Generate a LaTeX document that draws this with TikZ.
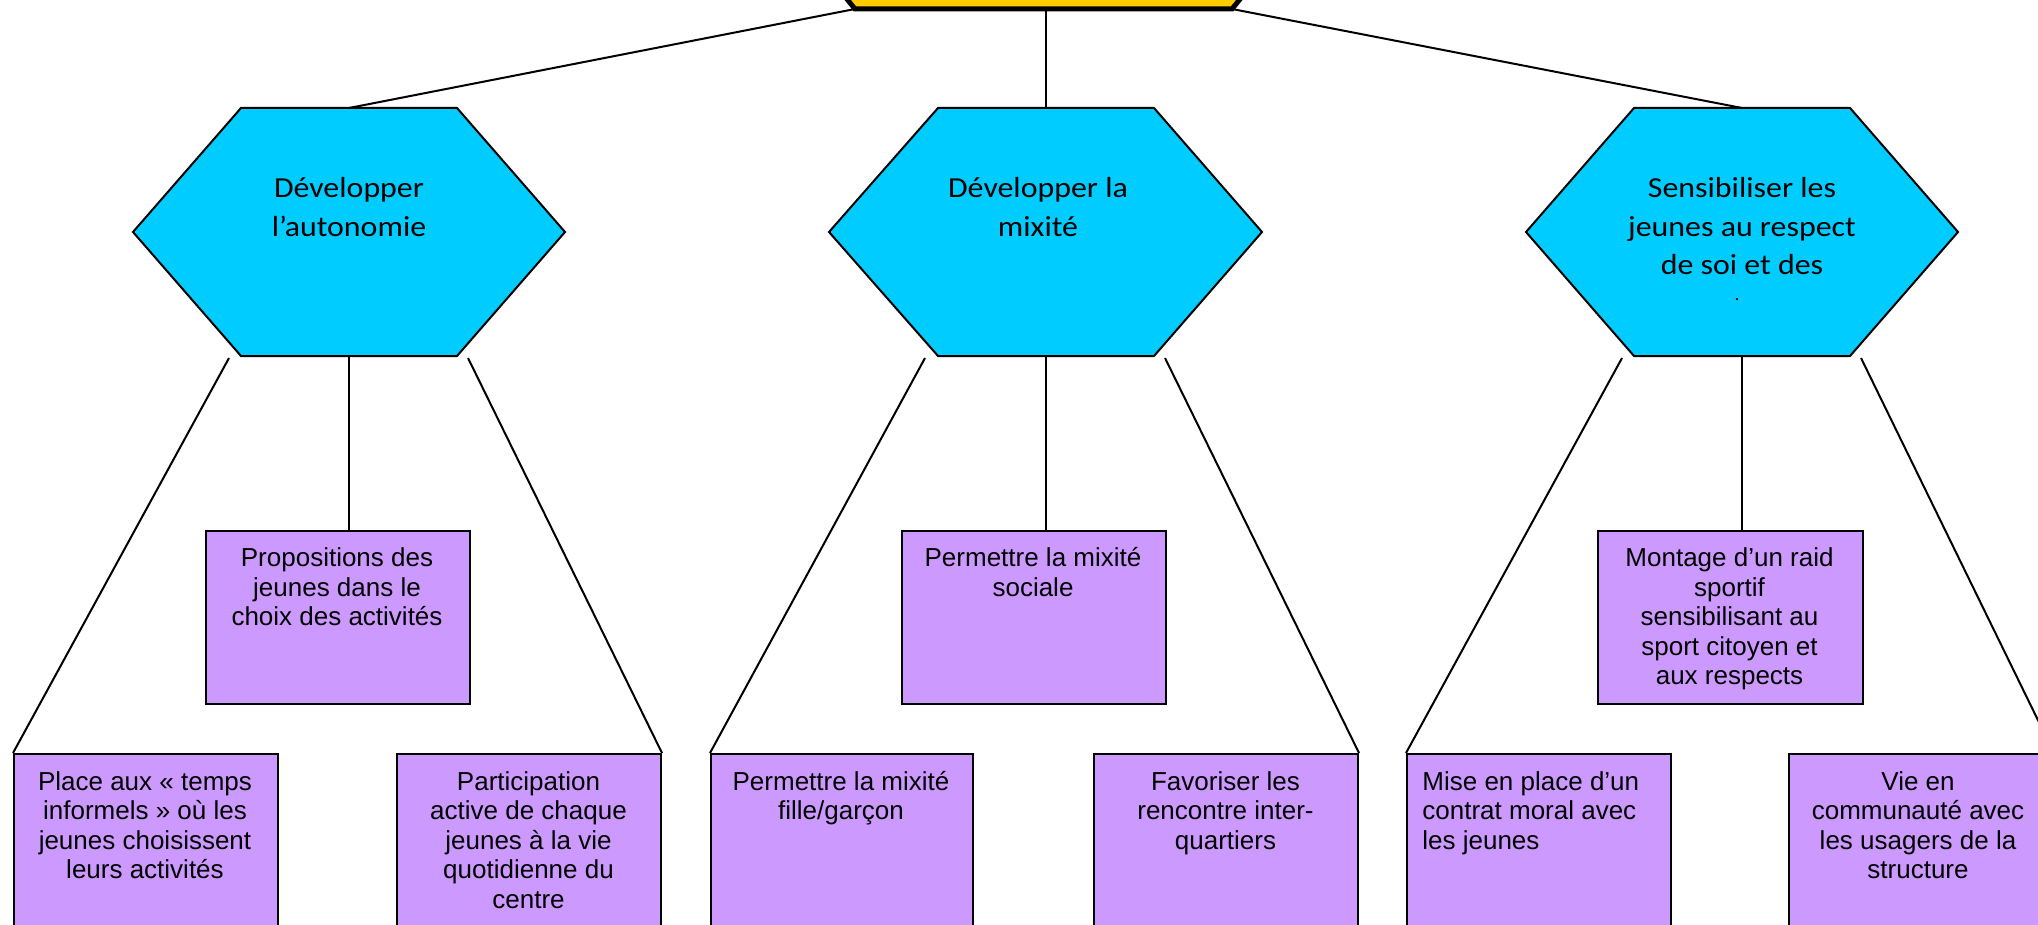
\documentclass[tikz,border=0pt]{standalone}
\usepackage{fontspec}
\setmainfont{Liberation Sans}
\newfontfamily\hexfont[FakeStretch=1.1]{Carlito}
\newfontfamily\boxfont{Liberation Sans}
\usetikzlibrary{backgrounds}
\definecolor{hexcyan}{HTML}{00CCFF}
\definecolor{boxpurple}{HTML}{CC99FF}
\definecolor{topyellow}{HTML}{FFCC00}
\begin{document}
\begin{tikzpicture}[x=0.5pt,y=-0.5pt,
  link/.style={draw=black, line width=1pt},
  hexshape/.style={fill=hexcyan, draw=black, line width=1pt, line join=miter},
  topshape/.style={fill=topyellow, draw=black, line width=2.5pt, line join=miter},
  boxshape/.style={fill=boxpurple, draw=black, line width=1pt, anchor=north west, minimum width=132pt, inner sep=0pt},
  midbox/.style={boxshape, minimum height=86.5pt},
  lowbox/.style={boxshape, minimum height=110pt},
  hextext/.style={inner sep=0pt, anchor=base, font=\hexfont\fontsize{14.5}{19.25}\selectfont},
  boxtext/.style={inner sep=0pt, anchor=base, font=\boxfont\fontsize{13}{14.75}\selectfont}]
\useasboundingbox (0,0) rectangle (2038,925);
\clip (0,0) rectangle (2038,925);

% top (yellow) box, mostly outside the picture
\draw[topshape] (838,-12) -- (855,9) -- (1232,9) -- (1249,-12) -- cycle;
\coordinate (topsw) at (855,9);
\coordinate (tops) at (1046,9);
\coordinate (topse) at (1232,9);

% hexagons
\draw[hexshape] (133,232) -- (241,108) -- (457,108) -- (565,232) -- (457,356) -- (241,356) -- cycle;
\draw[hexshape] (829,232) -- (938,108) -- (1154,108) -- (1262,232) -- (1154,356) -- (938,356) -- cycle;
\draw[hexshape] (1526,232) -- (1634,108) -- (1850,108) -- (1958,232) -- (1850,356) -- (1634,356) -- cycle;
\coordinate (h1n) at (349,108);
\coordinate (h1s) at (349,356);
\coordinate (h1sw) at (229,358);
\coordinate (h1se) at (468,358);
\coordinate (h2n) at (1046,108);
\coordinate (h2s) at (1046,356);
\coordinate (h2sw) at (925,358);
\coordinate (h2se) at (1165,358);
\coordinate (h3n) at (1742,108);
\coordinate (h3s) at (1742,356);
\coordinate (h3sw) at (1622,358);
\coordinate (h3se) at (1861,358);

\node[hextext] (h1) at (349,198) {\parbox[t]{200pt}{\centering Développer\\l’autonomie}};
\node[hextext] (h2) at (1038,198) {\parbox[t]{200pt}{\centering Développer la\\mixité}};
\node[hextext] (h3) at (1742,198) {\parbox[t]{200pt}{\centering Sensibiliser les\\jeunes au respect\\de soi et des}};
\node[inner sep=0pt, anchor=base, font=\hexfont\fontsize{9}{9}\selectfont] (h3dot) at (1737,300) {.};

% middle boxes
\node[midbox] (g) at (205,530) {};
\node[midbox] (h) at (901,530) {};
\node[midbox, minimum width=132.5pt] (i) at (1597,530) {};
\node[boxtext] (gt) at (337,566.5) {\parbox[t]{128pt}{\centering Propositions des\\jeunes dans le\\choix des activités}};
\node[boxtext] (ht) at (1033,566.5) {\parbox[t]{128pt}{\centering Permettre la mixité\\sociale}};
\node[boxtext] (it) at (1729.5,566.5) {\parbox[t]{128pt}{\centering Montage d’un raid\\sportif\\sensibilisant au\\sport citoyen et\\aux respects}};

% bottom boxes
\node[lowbox] (a) at (13,753) {};
\node[lowbox] (b) at (396,753) {};
\node[lowbox, minimum width=131pt] (c) at (710,753) {};
\node[lowbox] (d) at (1093,753) {};
\node[lowbox] (e) at (1406,753) {};
\node[lowbox] (f) at (1788,753) {};
\node[boxtext] (at) at (145,790) {\parbox[t]{128pt}{\centering Place aux « temps\\informels » où les\\jeunes choisissent\\leurs activités}};
\node[boxtext] (bt) at (528.5,790) {\parbox[t]{128pt}{\centering Participation\\active de chaque\\jeunes à la vie\\quotidienne du\\centre}};
\node[boxtext] (ct) at (841,790) {\parbox[t]{128pt}{\centering Permettre la mixité\\fille/garçon}};
\node[boxtext] (dt) at (1225.5,790) {\parbox[t]{128pt}{\centering Favoriser les\\rencontre inter-\\quartiers}};
\node[boxtext, anchor=base west] (et) at (1422,790) {\parbox[t]{128pt}{\raggedright Mise en place d’un\\contrat moral avec\\les jeunes}};
\node[boxtext] (ft) at (1918,790) {\parbox[t]{128pt}{\centering Vie en\\communauté avec\\les usagers de la\\structure}};

% connectors
\begin{pgfonlayer}{background}
\draw[link] (topsw) -- (h1n);
\draw[link] (tops) -- (h2n);
\draw[link] (topse) -- (h3n);
\draw[link] (h1s) -- (h1s |- g.north);
\draw[link] (h1sw) -- (a.north west);
\draw[link] (h1se) -- (b.north east);
\draw[link] (h2s) -- (h2s |- h.north);
\draw[link] (h2sw) -- (c.north west);
\draw[link] (h2se) -- (d.north east);
\draw[link] (h3s) -- (h3s |- i.north);
\draw[link] (h3sw) -- (e.north west);
\draw[link] (h3se) -- (f.north east);
\end{pgfonlayer}
\end{tikzpicture}
\end{document}
